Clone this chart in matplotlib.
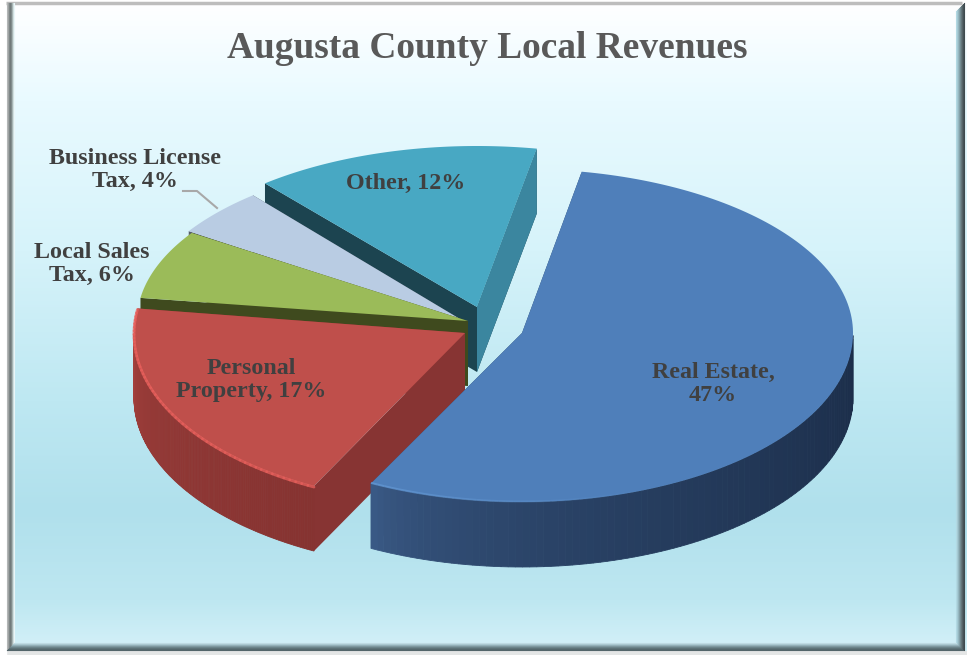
import matplotlib
matplotlib.use("Agg")
import matplotlib.pyplot as plt
import numpy as np
from matplotlib.patches import Polygon

categories = ["Real Estate", "Personal Property", "Local Sales Tax", "Business License Tax", "Other"]
percents = [47, 17, 6, 4, 12]
label_texts = ["Real Estate,\n47%", "Personal\nProperty, 17%", "Local Sales\nTax, 6%",
               "Business License\nTax, 4%", "Other, 12%"]
title_text = "Augusta County Local Revenues"

W, H = 967, 655
START = 79.6
RX = 331
DEPTH = 65

# cx, cy, upper radius, lower radius per slice (exploded look)
geom = {
    "Real Estate": (522, 333, 164, 169),
    "Personal Property": (465, 333, 170, 172),
    "Local Sales Tax": (468, 321, 160, 160),
    "Business License Tax": (465, 322, 165, 165),
    "Other": (477, 307, 161, 161),
}
top_colors = {
    "Real Estate": "#4f7fba",
    "Personal Property": "#bf4f4b",
    "Local Sales Tax": "#9bbb59",
    "Business License Tax": "#b9cce3",
    "Other": "#48a8c3",
}
cut_colors = {
    "Real Estate": "#2c4668",
    "Personal Property": "#873433",
    "Local Sales Tax": "#3f4a1e",
    "Business License Tax": "#555b68",
    "Other": "#1c4450",
}
wall_colors = {
    "Real Estate": ((62, 96, 142), (27, 45, 73)),
    "Personal Property": ((168, 66, 62), (134, 51, 49)),
}
text_pos = {
    "Real Estate": (713, 384),
    "Personal Property": (251, 380),
    "Local Sales Tax": (92, 264),
    "Business License Tax": (135, 170),
    "Other": (406, 183),
}


def project(name, deg, drop=0):
    cx, cy, bu, bd = geom[name]
    t = np.radians(np.asarray(deg, dtype=float))
    s = np.sin(t)
    return cx + RX * np.cos(t), cy - np.where(s > 0, bu, bd) * s + drop


fig = plt.figure(figsize=(W / 100, H / 100), dpi=100)
ax = fig.add_axes([0, 0, 1, 1])
ax.set_xlim(0, W)
ax.set_ylim(H, 0)
ax.axis("off")

# background gradient
stops_y = [0, 25, 100, 250, 400, 510, 600, 640]
stops_c = np.array([[255, 255, 255], [250, 254, 255], [233, 250, 255], [214, 243, 250],
                    [190, 232, 242], [176, 224, 236], [190, 231, 241], [208, 239, 247]]) / 255
yy = np.arange(H)
grad = np.stack([np.interp(yy, stops_y, stops_c[:, i]) for i in range(3)], axis=1)[:, None, :]
ax.imshow(grad, extent=(0, W, H, 0), aspect="auto", zorder=0)

# bevel frame
ax.fill_between([0, W], 0, 1.5, color="white", zorder=1)
ax.fill_between([0, W], 651, H, color="#e4e6e6", zorder=1)
ax.fill_betweenx([0, H], 0, 5.5, color="white", zorder=1)
ax.plot([6, 962], [3, 3], color="#bdbdbd", lw=2.5, zorder=2, solid_capstyle="butt")
left_shades = ["#b5b8b8", "#a0a4a4", "#7f8787", "#717a7a", "#7f8a8a", "#a5b2b2", "#cfdede", "#eaf6f8"]
for i, c in enumerate(left_shades):
    ax.plot([6.5 + i, 6.5 + i], [3, 650 - i], color=c, lw=0.8, zorder=2)
right_shades = ["#3f4a4e", "#465357", "#556367", "#64757a", "#738a90", "#84a0a8", "#95b6bf", "#a5cad4", "#b2d9e3"]
for i, c in enumerate(right_shades):
    ax.plot([963.5 - i, 963.5 - i], [3 + i, 650 - i], color=c, lw=0.8, zorder=2)
bottom_shades = ["#53656a", "#56696e", "#5f7479", "#6c8389", "#7d979e", "#93afb7", "#a9c7cf", "#bfdbe3"]
for i, c in enumerate(bottom_shades):
    ax.plot([7 + i, 963 - i], [650 - i, 650 - i], color=c, lw=0.8, zorder=3)

# slice angles from the values
total = sum(percents)
spans = [p / total * 360 for p in percents]
angles = {}
a0 = START
for name, sp in zip(categories, spans):
    angles[name] = (a0, a0 - sp)
    a0 -= sp


def draw_slice(name, z):
    a, b = angles[name]
    th = np.linspace(a, b, 160)
    cx, cy = geom[name][:2]
    # cut faces
    for edge in (a, b):
        ex, ey = project(name, edge)
        ax.add_patch(Polygon([(cx, cy), (ex, ey), (ex, ey + DEPTH), (cx, cy + DEPTH)],
                             fc=cut_colors[name], ec="none", zorder=z))
    # outer wall, only the part facing us
    if name in wall_colors:
        c1, c2 = np.array(wall_colors[name], dtype=float) / 255
        vis = np.sort(th[np.sin(np.radians(th)) < 0])[::-1]
        ends = vis[-1], vis[0]
        for t0, t1 in zip(vis[:-1], vis[1:]):
            f = abs((t0 - ends[0]) / (ends[1] - ends[0]))
            col = c1 + (c2 - c1) * f ** 0.45
            x, y = project(name, [t0, t1])
            ax.add_patch(Polygon([(x[0], y[0]), (x[1], y[1]), (x[1], y[1] + DEPTH), (x[0], y[0] + DEPTH)],
                                 fc=col, ec=col, lw=0.6, zorder=z + 0.1))
    # top surface
    x, y = project(name, th)
    ax.add_patch(Polygon(np.column_stack([np.r_[cx, x], np.r_[cy, y]]),
                         fc=top_colors[name], ec="none", zorder=z + 0.2))


# back to front
draw_slice("Other", 10)
# right cut face of Other is lit
ex, ey = project("Other", angles["Other"][1])
ox, oy = geom["Other"][:2]
ax.add_patch(Polygon([(ox, oy), (ex, ey), (ex, ey + DEPTH), (ox, oy + DEPTH)],
                     fc="#3b869f", ec="none", zorder=10.1))
draw_slice("Business License Tax", 11)
draw_slice("Local Sales Tax", 12)
draw_slice("Personal Property", 13)
draw_slice("Real Estate", 14)

# lit rims, fading out along the arc
a, b = angles["Personal Property"]
th = np.linspace(a, b, 60)
x, y = project("Personal Property", th)
for i in range(len(th) - 1):
    ax.plot(x[i:i + 2], y[i:i + 2] + 1, color="#e8605c", lw=2, alpha=0.75, zorder=13.4,
            solid_capstyle="round")
a, b = angles["Real Estate"]
th = np.linspace(b, b + 50, 40)
x, y = project("Real Estate", th)
for i in range(len(th) - 1):
    ax.plot(x[i:i + 2], y[i:i + 2] - 0.5, color="#659ad6", lw=1.5, alpha=0.7 * (1 - i / 39),
            zorder=14.4, solid_capstyle="butt")

# leader for the small slice
ax.plot([183, 197, 217], [191, 191, 208], color="#a8a8a8", lw=1.5, zorder=15)

for name, txt in zip(categories, label_texts):
    px, py = text_pos[name]
    ax.text(px, py, txt, ha="center", va="center", family="Liberation Serif", weight="bold",
            fontsize=17.3, color="#404040", linespacing=1.18, zorder=20)

ax.text(487, 48, title_text, ha="center", va="center", family="Liberation Serif", weight="bold",
        fontsize=26.9, color="#595959", zorder=20)

fig.savefig("out.png", dpi=100)
plt.close()
